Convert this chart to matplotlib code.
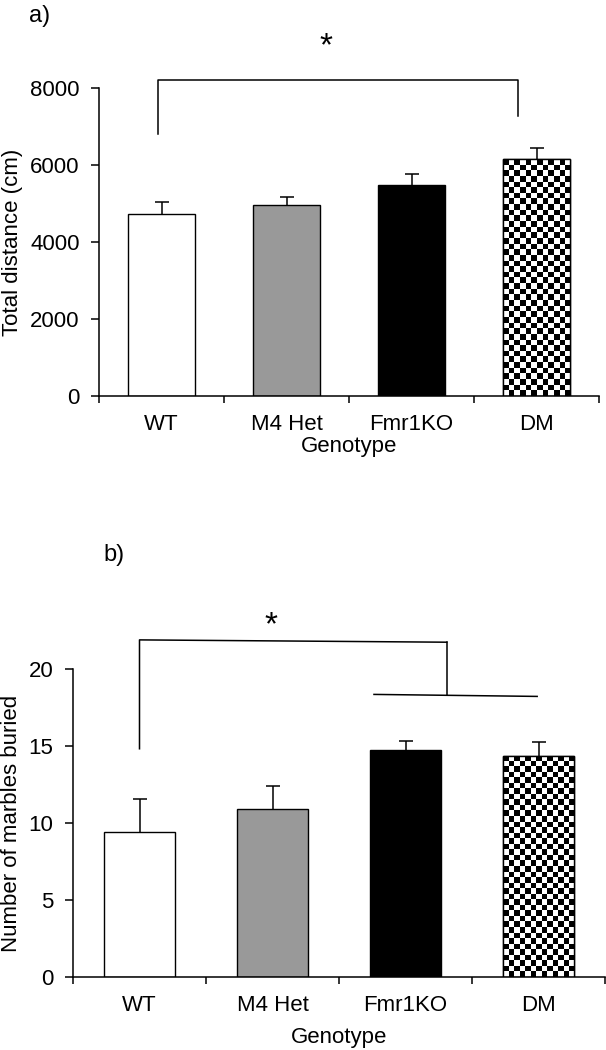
import numpy as np
import matplotlib
matplotlib.use("Agg")
import matplotlib.pyplot as plt

plt.rcParams['font.family'] = ['Liberation Sans', 'DejaVu Sans']

genotypes = ["WT", "M4 Het", "Fmr1KO", "DM"]
bar_colors = ["white", "#999999", "black", "checker"]

distance_mean = [4720, 4950, 5485, 6145]
distance_err = [310, 215, 285, 290]

marbles_mean = [9.4, 10.9, 14.77, 14.38]
marbles_err = [2.16, 1.5, 0.54, 0.85]

W, H = 606, 1050
fig = plt.figure(figsize=(W / 100, H / 100), dpi=100)


def make_axes(left, right, top, bottom):
    return fig.add_axes([left / W, 1 - bottom / H, (right - left) / W, (bottom - top) / H])


FS = 16


def draw_panel(ax, means, errs, width, ylim, yticks, ylabel, xlabelpad):
    x = np.arange(len(means))
    bars = ax.bar(x, means, width=width, color=[c if c != "checker" else "white" for c in bar_colors],
                  edgecolor="black", linewidth=1.0, zorder=2)
    eb = ax.errorbar(x, means, yerr=[np.zeros(len(errs)), errs], fmt="none", ecolor="black",
                     elinewidth=1.1, capsize=5, capthick=1.1, zorder=1)
    caps = eb.lines[1]
    if len(caps) > 1:
        caps[0].set_visible(False)
    ax.set_xlim(-0.5, len(means) - 0.5)
    ax.set_ylim(*ylim)
    # checkerboard fill
    for b, c in zip(bars, bar_colors):
        if c != "checker":
            continue
        x0, x1 = b.get_x(), b.get_x() + b.get_width()
        y0, y1 = b.get_y(), b.get_y() + b.get_height()
        p0 = ax.transData.transform((x0, y0))
        p1 = ax.transData.transform((x1, y1))
        sq = 5.6
        ncol = max(1, int(round(abs(p1[0] - p0[0]) / sq)))
        nrow = max(1, int(round(abs(p1[1] - p0[1]) / sq)))
        checker = (np.add.outer(np.arange(nrow), np.arange(ncol)) % 2).astype(float)
        im = ax.imshow(checker, cmap="gray", extent=(x0, x1, y0, y1), aspect="auto",
                       interpolation="nearest", zorder=2.5, vmin=0, vmax=1)
        im.set_clip_path(b)
        ax.bar(b.get_x() + b.get_width() / 2, b.get_height(), width=b.get_width(),
               color="none", edgecolor="black", linewidth=1.0, zorder=3)
    ax.set_xlim(-0.5, len(means) - 0.5)
    ax.set_ylim(*ylim)
    ax.set_aspect("auto")
    for s in ["top", "right"]:
        ax.spines[s].set_visible(False)
    for s in ["left", "bottom"]:
        ax.spines[s].set_linewidth(1.1)
    ax.set_yticks(yticks)
    ax.set_xticks(np.arange(-0.5, len(means), 1.0))
    ax.set_xticklabels([])
    ax.set_xticks(x, minor=True)
    ax.set_xticklabels(genotypes, minor=True, fontsize=FS)
    ax.tick_params(axis="x", which="minor", length=0, pad=13)
    ax.tick_params(axis="x", which="major", direction="out", length=5, width=1.1)
    ax.tick_params(axis="y", direction="out", length=6, width=1.1, labelsize=FS, pad=8)
    ax.set_xlabel("Genotype", fontsize=FS, labelpad=xlabelpad)
    ax.set_ylabel(ylabel, fontsize=FS, labelpad=5)


# Panel a
axa = make_axes(99, 599, 88, 396)
draw_panel(axa, distance_mean, distance_err, 0.54, (0, 8000), [0, 2000, 4000, 6000, 8000],
           "Total distance (cm)", 1)
axa.plot([-0.025, -0.025, 2.85, 2.85], [6815, 8197, 8197, 7270], color="black", lw=1.1,
         clip_on=False)
axa.text(1.316, 9065, "*", fontsize=24, ha="center", va="center")
fig.text(29 / W, 1 - 16 / H, "a)", fontsize=FS + 1, ha="left", va="center")

# Panel b
axb = make_axes(73, 605, 669, 977)
draw_panel(axb, marbles_mean, marbles_err, 0.535, (0, 20), [0, 5, 10, 15, 20],
           "Number of marbles buried", 8)
axb.plot([0, 0, 2.31], [14.82, 21.89, 21.74], color="black", lw=1.1, clip_on=False)
axb.plot([2.31, 2.31], [21.74, 18.29], color="black", lw=1.1, clip_on=False)
axb.plot([1.763, 2.99], [18.35, 18.22], color="black", lw=1.1, clip_on=False)
axb.text(0.99, 22.78, "*", fontsize=24, ha="center", va="center")
fig.text(103 / W, 1 - 555 / H, "b)", fontsize=FS + 1, ha="left", va="center")

fig.savefig("out.png", dpi=100)
